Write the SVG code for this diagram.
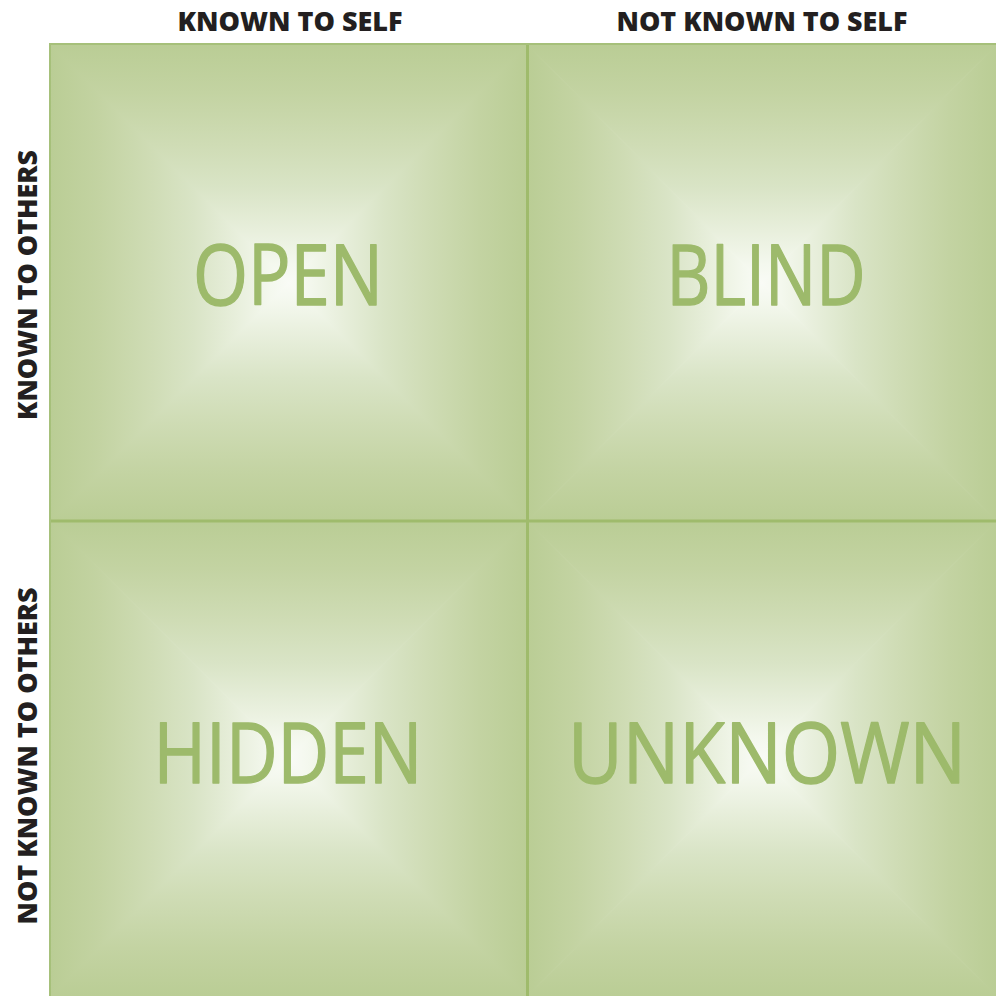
<svg xmlns="http://www.w3.org/2000/svg" width="996" height="996" viewBox="0 0 996 996">
  <defs>
    <linearGradient id="gT" x1="0" y1="0" x2="0" y2="1">
      <stop offset="0" stop-color="#bacd95"/>
      <stop offset="0.2" stop-color="#c3d3a2"/>
      <stop offset="0.42" stop-color="#cfdcb5"/>
      <stop offset="0.6" stop-color="#d9e4c6"/>
      <stop offset="0.78" stop-color="#e8efdc"/>
      <stop offset="0.92" stop-color="#f4f8ee"/>
      <stop offset="1" stop-color="#f9fbf6"/>
    </linearGradient>
    <linearGradient id="gB" href="#gT" x1="0" y1="1" x2="0" y2="0"/>
    <linearGradient id="gL" href="#gT" x1="0" y1="0" x2="1" y2="0"/>
    <linearGradient id="gR" href="#gT" x1="1" y1="0" x2="0" y2="0"/>
  </defs>
  <style>
    .head { font-family: "Open Sans", "Liberation Sans", sans-serif; font-weight: 800; font-size: 27px; fill: #231f20; text-anchor: middle; }
    .label { font-family: "Open Sans", "Noto Sans", sans-serif; font-weight: 400; font-size: 84px; fill: #9dba6b; stroke: #9dba6b; stroke-width: 1.4; stroke-linejoin: round; text-anchor: middle; }
    .divider { stroke: #9fbb6c; stroke-width: 3; fill: none; }
    .frame { stroke: #a6c07a; stroke-width: 2; fill: none; }
    .t { fill: url(#gT); stroke: url(#gT); stroke-width: 1; }
    .b { fill: url(#gB); stroke: url(#gB); stroke-width: 1; }
    .l { fill: url(#gL); stroke: url(#gL); stroke-width: 1; }
    .r { fill: url(#gR); stroke: url(#gR); stroke-width: 1; }
  </style>
  <rect width="996" height="996" fill="#ffffff"/>

  <g id="quadrant-open">
    <polygon class="t" points="51,45 527,45 289,283"/>
    <polygon class="b" points="51,521 527,521 289,283"/>
    <polygon class="l" points="51,45 51,521 289,283"/>
    <polygon class="r" points="527,45 527,521 289,283"/>
    <text class="label" x="288" y="305" textLength="190" lengthAdjust="spacingAndGlyphs">OPEN</text>
  </g>
  <g id="quadrant-blind">
    <polygon class="t" points="528,45 996,45 762,283"/>
    <polygon class="b" points="528,521 996,521 762,283"/>
    <polygon class="l" points="528,45 528,521 762,283"/>
    <polygon class="r" points="996,45 996,521 762,283"/>
    <text class="label" x="766" y="305" textLength="199" lengthAdjust="spacingAndGlyphs">BLIND</text>
  </g>
  <g id="quadrant-hidden">
    <polygon class="t" points="51,521 527,521 289,758"/>
    <polygon class="b" points="51,996 527,996 289,758"/>
    <polygon class="l" points="51,521 51,996 289,758"/>
    <polygon class="r" points="527,521 527,996 289,758"/>
    <text class="label" x="288" y="783" textLength="269" lengthAdjust="spacingAndGlyphs">HIDDEN</text>
  </g>
  <g id="quadrant-unknown">
    <polygon class="t" points="528,521 996,521 762,758"/>
    <polygon class="b" points="528,996 996,996 762,758"/>
    <polygon class="l" points="528,521 528,996 762,758"/>
    <polygon class="r" points="996,521 996,996 762,758"/>
    <text class="label" x="767" y="783" textLength="398" lengthAdjust="spacingAndGlyphs">UNKNOWN</text>
  </g>

  <g id="connectors">
    <rect class="frame" x="50" y="44" width="950" height="956"/>
    <line class="divider" x1="527.5" y1="45" x2="527.5" y2="996"/>
    <line class="divider" x1="51" y1="521" x2="996" y2="521"/>
  </g>

  <g id="axis-labels">
    <text class="head" x="290" y="31" textLength="225" lengthAdjust="spacingAndGlyphs">KNOWN TO SELF</text>
    <text class="head" x="762" y="31" textLength="291" lengthAdjust="spacingAndGlyphs">NOT KNOWN TO SELF</text>
    <text class="head" transform="translate(37,285) rotate(-90)" textLength="270" lengthAdjust="spacingAndGlyphs">KNOWN TO OTHERS</text>
    <text class="head" transform="translate(37,756) rotate(-90)" textLength="337" lengthAdjust="spacingAndGlyphs">NOT KNOWN TO OTHERS</text>
  </g>
</svg>
